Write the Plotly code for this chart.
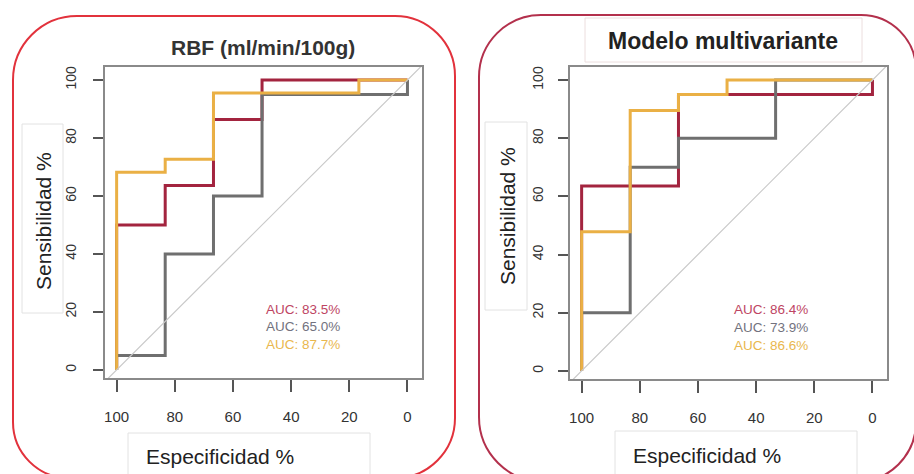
import plotly.graph_objects as go

W, H = 914, 474

# ---------------- data ----------------
# Left panel: RBF (ml/min/100g)
rbf_red_spec = [100, 100, 83.3, 83.3, 66.7, 66.7, 50, 50, 0]
rbf_red_sens = [0, 50, 50, 63.6, 63.6, 86.4, 86.4, 100, 100]
rbf_gray_spec = [100, 100, 83.3, 83.3, 66.7, 66.7, 50, 50, 0, 0]
rbf_gray_sens = [0, 5, 5, 40, 40, 60, 60, 95, 95, 100]
rbf_orange_spec = [100, 100, 83.3, 83.3, 66.7, 66.7, 16.7, 16.7, 0]
rbf_orange_sens = [0, 68.2, 68.2, 72.7, 72.7, 95.5, 95.5, 100, 100]
rbf_auc = ["AUC: 83.5%", "AUC: 65.0%", "AUC: 87.7%"]

# Right panel: Modelo multivariante
mm_red_spec = [100, 100, 66.7, 66.7, 0, 0]
mm_red_sens = [0, 63.6, 63.6, 95, 95, 100]
mm_gray_spec = [100, 100, 83.3, 83.3, 66.7, 66.7, 33.3, 33.3, 0]
mm_gray_sens = [0, 20, 20, 70, 70, 80, 80, 100, 100]
mm_orange_spec = [100, 100, 83.3, 83.3, 66.7, 66.7, 50, 50, 0]
mm_orange_sens = [0, 47.8, 47.8, 89.5, 89.5, 95, 95, 100, 100]
mm_auc = ["AUC: 86.4%", "AUC: 73.9%", "AUC: 86.6%"]

# chance diagonal (spec, sens)
diag_spec = [110, -10]
diag_sens = [-10, 110]

tick_vals = [100, 80, 60, 40, 20, 0]
tick_text = ["100", "80", "60", "40", "20", "0"]

titles = ["RBF (ml/min/100g)", "Modelo multivariante"]
xlabel = "Especificidad %"
ylabel = "Sensibilidad %"

RED = "#a3243f"
GRAY = "#6f6f6f"
ORANGE = "#eab045"
AUC_COLORS = ["#be4563", "#72727e", "#e9b74e"]

# ---------------- helpers ----------------
def px(x):
    return x / W

def py(y):
    return 1 - y / H

def rrect(x0, y0, x1, y1, rtl, rtr, rbr, rbl):
    k = 0.5523
    def P(x, y):
        return f"{px(x):.5f},{py(y):.5f}"
    d = f"M {P(x0 + rtl, y0)} L {P(x1 - rtr, y0)} "
    d += f"C {P(x1 - rtr + k * rtr, y0)} {P(x1, y0 + rtr - k * rtr)} {P(x1, y0 + rtr)} "
    d += f"L {P(x1, y1 - rbr)} "
    d += f"C {P(x1, y1 - rbr + k * rbr)} {P(x1 - rbr + k * rbr, y1)} {P(x1 - rbr, y1)} "
    d += f"L {P(x0 + rbl, y1)} "
    d += f"C {P(x0 + rbl - k * rbl, y1)} {P(x0, y1 - rbl + k * rbl)} {P(x0, y1 - rbl)} "
    d += f"L {P(x0, y0 + rtl)} "
    d += f"C {P(x0, y0 + rtl - k * rtl)} {P(x0 + rtl - k * rtl, y0)} {P(x0 + rtl, y0)} Z"
    return d

fig = go.Figure()

panels = [
    dict(ax="", lab_ax="y3", box=(105, 67, 422, 378),
         curves=[(rbf_red_spec, rbf_red_sens, RED), (rbf_gray_spec, rbf_gray_sens, GRAY),
                 (rbf_orange_spec, rbf_orange_sens, ORANGE)],
         auc=rbf_auc, auc_x=36),
    dict(ax="2", lab_ax="y4", box=(570, 67, 887, 379),
         curves=[(mm_red_spec, mm_red_sens, RED), (mm_gray_spec, mm_gray_sens, GRAY),
                 (mm_orange_spec, mm_orange_sens, ORANGE)],
         auc=mm_auc, auc_x=35),
]

annotations = []
for p in panels:
    xa = "x" + p["ax"]
    ya = "y" + p["ax"]
    # diagonal drawn on the label-carrying overlay axis (same scale as ya)
    fig.add_trace(go.Scatter(x=diag_spec, y=diag_sens, mode="lines",
                             line=dict(color="#c9c9c9", width=1.2),
                             xaxis=xa, yaxis=p["lab_ax"], showlegend=False, hoverinfo="skip"))
    for sx, sy, col in p["curves"]:
        fig.add_trace(go.Scatter(x=sx, y=sy, mode="lines",
                                 line=dict(color=col, width=3),
                                 xaxis=xa, yaxis=ya, showlegend=False))
    for i, t in enumerate(p["auc"]):
        annotations.append(dict(x=p["auc_x"], y=[21, 14.8, 8.6][i], xref=xa, yref=ya,
                                xanchor="center", yanchor="middle",
                                text=t, showarrow=False,
                                font=dict(size=13.5, color=AUC_COLORS[i],
                                          family="Liberation Sans, Arial")))

YRANGE = [-2.8, 104.5]
axis_common = dict(range=[104, -5], tickvals=tick_vals, ticktext=tick_text,
                   showgrid=False, zeroline=False, showline=True, mirror=True,
                   linecolor="#8a8a8a", linewidth=1.6, ticks="outside",
                   tickcolor="#555", tickwidth=1.6, ticklen=12,
                   tickfont=dict(size=15, color="#333", family="Liberation Sans, Arial"),
                   ticklabelstandoff=12)
yaxis_common = dict(range=YRANGE, tickvals=tick_vals, showticklabels=False,
                    showgrid=False, zeroline=False, showline=True, mirror=True,
                    linecolor="#8a8a8a", linewidth=1.6, ticks="outside",
                    tickcolor="#555", tickwidth=1.6, ticklen=10)
ylabels_common = dict(range=YRANGE, tickvals=tick_vals, ticktext=tick_text,
                      showgrid=False, zeroline=False, showline=False, ticks="",
                      tickangle=-90, anchor="free", side="left",
                      tickfont=dict(size=14, color="#333", family="Liberation Sans, Arial"))

b1 = panels[0]["box"]
b2 = panels[1]["box"]
fig.update_layout(
    width=W, height=H, margin=dict(l=0, r=0, t=0, b=0),
    paper_bgcolor="white", plot_bgcolor="white",
    xaxis=dict(domain=[px(b1[0]), px(b1[2])], anchor="y", **axis_common),
    yaxis=dict(domain=[py(b1[3]), py(b1[1])], anchor="x", **yaxis_common),
    xaxis2=dict(domain=[px(b2[0]), px(b2[2])], anchor="y2", **axis_common),
    yaxis2=dict(domain=[py(b2[3]), py(b2[1])], anchor="x2", **yaxis_common),
    yaxis3=dict(overlaying="y", position=px(b1[0] - 26), **ylabels_common),
    yaxis4=dict(overlaying="y2", position=px(b2[0] - 24), **ylabels_common),
)

shapes = []
shapes.append(dict(type="path", xref="paper", yref="paper",
                   path=rrect(13, 16, 455, 478, 64, 60, 60, 56),
                   line=dict(color="#e2323c", width=2), layer="below"))
shapes.append(dict(type="path", xref="paper", yref="paper",
                   path=rrect(479, 15, 916, 482, 62, 55, 60, 65),
                   line=dict(color="#b3304c", width=2), layer="below"))

def box(x0, y0, x1, y1, color="#e2e2e2"):
    shapes.append(dict(type="rect", xref="paper", yref="paper",
                       x0=px(x0), y0=py(y1), x1=px(x1), y1=py(y0),
                       line=dict(color=color, width=1), fillcolor="rgba(0,0,0,0)"))

box(22, 124, 63, 313)
box(128, 433, 370, 480)
box(485, 122, 527, 310)
box(615, 431, 857, 480)
box(585, 18, 862, 62, color="#ecdede")

lab_font = dict(size=21, color="#222", family="Liberation Sans, Arial")
def lab(x, y, text, font, angle=0):
    return dict(x=px(x), y=py(y), xref="paper", yref="paper", text=text,
                xanchor="center", yanchor="middle", textangle=angle,
                showarrow=False, font=font)

annotations += [
    lab(263, 47, "<b>" + titles[0] + "</b>", dict(size=21, color="#333", family="Liberation Sans, Arial")),
    lab(723, 41, "<b>" + titles[1] + "</b>", dict(size=23, color="#222", family="Liberation Sans, Arial")),
    lab(44, 221, ylabel, lab_font, -90),
    lab(507, 216, ylabel, lab_font, -90),
    lab(220, 456, xlabel, lab_font),
    lab(707, 455, xlabel, lab_font),
]

fig.update_layout(shapes=shapes, annotations=annotations)
fig.write_html("out.html")
